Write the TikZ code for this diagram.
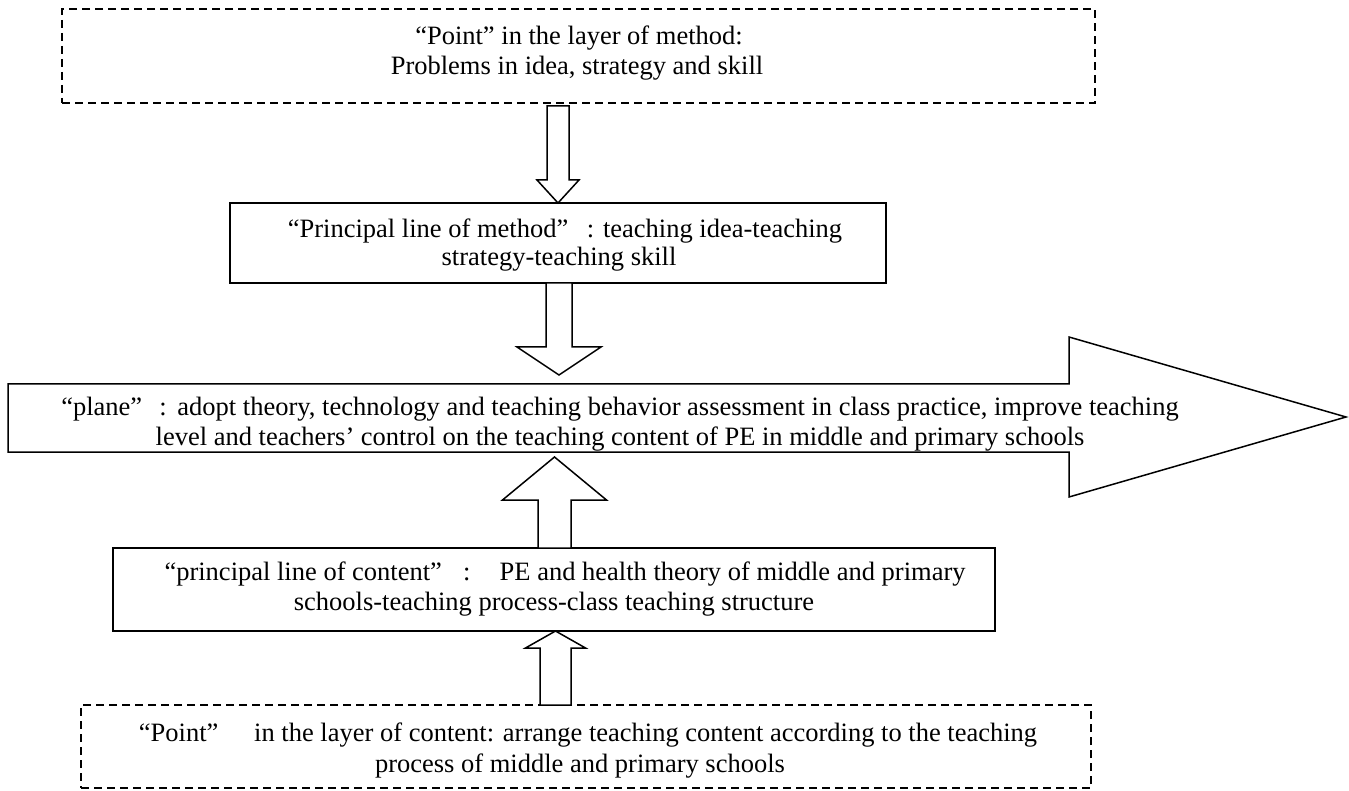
\documentclass[tikz,border=0pt]{standalone}
\usepackage{fontspec}
\setmainfont{Liberation Serif}
\usetikzlibrary{calc}
\newcommand\blockarrow[5]{% #1 tail, #2 tip, #3 shaft half width, #4 head half width, #5 signed head length
  \draw[blk] let \p1=(#1), \p2=(#2) in
    (\x2-#3,\y1) -- (\x2+#3,\y1) -- (\x2+#3,\y2#5) -- (\x2+#4,\y2#5) -- (\x2,\y2)
    -- (\x2-#4,\y2#5) -- (\x2-#3,\y2#5) -- cycle;}
\begin{document}
\begin{tikzpicture}[x=1pt,y=-1pt,
  box/.style={draw,line width=1.5pt,inner sep=0pt,outer sep=0pt},
  dbox/.style={box,dash pattern=on 8pt off 5pt},
  txt/.style={anchor=base,font=\fontsize{26.5}{30}\selectfont,inner sep=0pt},
  blk/.style={draw,line width=1.5pt,fill=white,line join=miter}]
\useasboundingbox (0,0) rectangle (1349,791);

% boxes
\node[dbox,minimum width=1033pt,minimum height=94pt] (top) at (578.5,56) {};
\node[box,minimum width=656pt,minimum height=80pt] (meth) at (558,243) {};
\node[box,minimum width=882pt,minimum height=83pt] (cont) at (554,589.5) {};
\node[dbox,minimum width=1010pt,minimum height=83pt] (bot) at (586,746.5) {};

% plane arrow
\coordinate (p1) at (8,384);
\coordinate (p2) at (1069,384);
\coordinate (p3) at (1069,337);
\coordinate (ptip) at (1346,417);
\coordinate (p5) at (1069,497);
\coordinate (p6) at (1069,452);
\coordinate (p7) at (8,452);
\draw[blk] (p1) -- (p2) -- (p3) -- (ptip) -- (p5) -- (p6) -- (p7) -- cycle;

% texts
\node[txt] (ttopa) at (579,45) {“Point” in the layer of method:};
\node[txt] (ttopb) at (577,75) {Problems in idea, strategy and skill};
\node[txt] (tmetha) at (565,238) {“Principal line of method”\hspace{0.7em}: teaching idea-teaching};
\node[txt] (tmethb) at (559,266) {strategy-teaching skill};
\begin{scope}
\clip (p1) -- (p2) -- (p3) -- (ptip) -- (p5) -- (p6) -- (p7) -- cycle;
\node[txt] (tplanea) at (620,415) {“plane”\hspace{0.65em}:\hspace{0.4em}adopt theory, technology and teaching behavior assessment in class practice, improve teaching};
\node[txt] (tplaneb) at (620,445) {level and teachers’ control on the teaching content of PE in middle and primary schools};
\end{scope}
\node[txt] (tconta) at (565,580) {“principal line of content”\hspace{0.8em}:\hspace{1.1em}PE and health theory of middle and primary};
\node[txt] (tcontb) at (554,610) {schools-teaching process-class teaching structure};
\node[txt] (tbota) at (588,741) {“Point”\hspace{1.35em}in the layer of content: arrange teaching content according to the teaching};
\node[txt] (tbotb) at (580,772) {process of middle and primary schools};

% block arrows
\coordinate (a1tail) at ($(top.south)+(-20.5,3)$);
\coordinate (a1tip) at (a1tail |- meth.north);
\blockarrow{a1tail}{a1tip}{11}{21}{+23}
\coordinate (a2tail) at ($(meth.south)+(1,0)$);
\coordinate (a2tip) at ($(a2tail |- p1)+(0,-9)$);
\blockarrow{a2tail}{a2tip}{13}{42}{+28}
\coordinate (a3tail) at ($(cont.north)+(0.5,0)$);
\coordinate (a3tip) at ($(a3tail |- p7)+(0,5)$);
\blockarrow{a3tail}{a3tip}{16.5}{52}{-43}
\coordinate (a4tail) at ($(bot.north)+(-30.5,0)$);
\coordinate (a4tip) at (a4tail |- cont.south);
\blockarrow{a4tail}{a4tip}{15.5}{30}{-17}
\end{tikzpicture}
\end{document}
